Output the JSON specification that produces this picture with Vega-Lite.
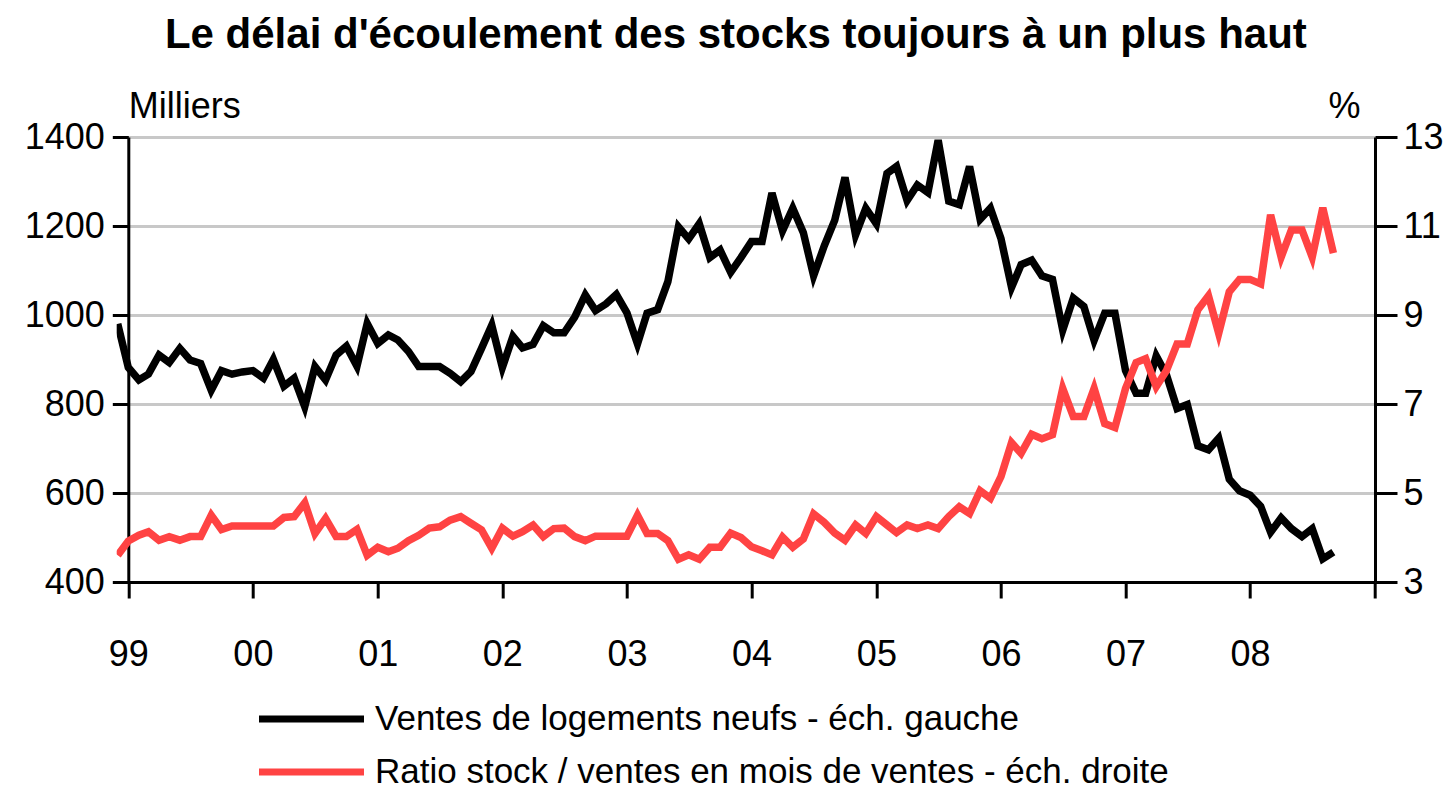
{
  "$schema": "https://vega.github.io/schema/vega-lite/v6.json",
  "autosize": {"type": "none"},
  "width": 1258.3,
  "height": 445,
  "padding": {"left": 116.7, "top": 137, "right": 80, "bottom": 207},
  "background": "white",
  "title": {
    "text": "Le délai d'écoulement des stocks toujours à un plus haut",
    "font": "Liberation Sans",
    "fontSize": 42,
    "fontWeight": "bold",
    "color": "black",
    "anchor": "middle",
    "dx": -10,
    "offset": 31
  },
  "config": {
    "view": {"stroke": null},
    "font": "Liberation Sans"
  },
  "data": {
    "values": [
      {"date": "1998-12-01", "ventes": 980, "ratio": 3.6},
      {"date": "1999-01-01", "ventes": 882, "ratio": 3.92},
      {"date": "1999-02-01", "ventes": 854, "ratio": 4.05},
      {"date": "1999-03-01", "ventes": 867, "ratio": 4.13},
      {"date": "1999-04-01", "ventes": 910, "ratio": 3.94},
      {"date": "1999-05-01", "ventes": 893, "ratio": 4.02},
      {"date": "1999-06-01", "ventes": 925, "ratio": 3.94},
      {"date": "1999-07-01", "ventes": 899, "ratio": 4.02},
      {"date": "1999-08-01", "ventes": 891, "ratio": 4.02},
      {"date": "1999-09-01", "ventes": 831, "ratio": 4.5},
      {"date": "1999-10-01", "ventes": 875, "ratio": 4.18},
      {"date": "1999-11-01", "ventes": 867, "ratio": 4.26},
      {"date": "1999-12-01", "ventes": 872, "ratio": 4.26},
      {"date": "2000-01-01", "ventes": 875, "ratio": 4.26},
      {"date": "2000-02-01", "ventes": 858, "ratio": 4.26},
      {"date": "2000-03-01", "ventes": 900, "ratio": 4.26},
      {"date": "2000-04-01", "ventes": 840, "ratio": 4.45},
      {"date": "2000-05-01", "ventes": 858, "ratio": 4.47},
      {"date": "2000-06-01", "ventes": 794, "ratio": 4.78},
      {"date": "2000-07-01", "ventes": 884, "ratio": 4.09},
      {"date": "2000-08-01", "ventes": 854, "ratio": 4.43},
      {"date": "2000-09-01", "ventes": 910, "ratio": 4.02},
      {"date": "2000-10-01", "ventes": 930, "ratio": 4.02},
      {"date": "2000-11-01", "ventes": 885, "ratio": 4.18},
      {"date": "2000-12-01", "ventes": 981, "ratio": 3.6},
      {"date": "2001-01-01", "ventes": 936, "ratio": 3.78},
      {"date": "2001-02-01", "ventes": 955, "ratio": 3.68},
      {"date": "2001-03-01", "ventes": 944, "ratio": 3.76},
      {"date": "2001-04-01", "ventes": 918, "ratio": 3.93},
      {"date": "2001-05-01", "ventes": 884, "ratio": 4.05},
      {"date": "2001-06-01", "ventes": 884, "ratio": 4.21},
      {"date": "2001-07-01", "ventes": 884, "ratio": 4.24},
      {"date": "2001-08-01", "ventes": 869, "ratio": 4.39},
      {"date": "2001-09-01", "ventes": 850, "ratio": 4.47},
      {"date": "2001-10-01", "ventes": 873, "ratio": 4.32},
      {"date": "2001-11-01", "ventes": 925, "ratio": 4.17},
      {"date": "2001-12-01", "ventes": 977, "ratio": 3.76},
      {"date": "2002-01-01", "ventes": 882, "ratio": 4.21},
      {"date": "2002-02-01", "ventes": 952, "ratio": 4.03},
      {"date": "2002-03-01", "ventes": 926, "ratio": 4.13},
      {"date": "2002-04-01", "ventes": 934, "ratio": 4.28},
      {"date": "2002-05-01", "ventes": 976, "ratio": 4.02},
      {"date": "2002-06-01", "ventes": 960, "ratio": 4.2},
      {"date": "2002-07-01", "ventes": 960, "ratio": 4.21},
      {"date": "2002-08-01", "ventes": 995, "ratio": 4.02},
      {"date": "2002-09-01", "ventes": 1045, "ratio": 3.93},
      {"date": "2002-10-01", "ventes": 1010, "ratio": 4.03},
      {"date": "2002-11-01", "ventes": 1025, "ratio": 4.03},
      {"date": "2002-12-01", "ventes": 1046, "ratio": 4.03},
      {"date": "2003-01-01", "ventes": 1005, "ratio": 4.03},
      {"date": "2003-02-01", "ventes": 935, "ratio": 4.5},
      {"date": "2003-03-01", "ventes": 1004, "ratio": 4.09},
      {"date": "2003-04-01", "ventes": 1012, "ratio": 4.09},
      {"date": "2003-05-01", "ventes": 1075, "ratio": 3.93},
      {"date": "2003-06-01", "ventes": 1198, "ratio": 3.51},
      {"date": "2003-07-01", "ventes": 1171, "ratio": 3.61},
      {"date": "2003-08-01", "ventes": 1205, "ratio": 3.51},
      {"date": "2003-09-01", "ventes": 1129, "ratio": 3.78},
      {"date": "2003-10-01", "ventes": 1146, "ratio": 3.78},
      {"date": "2003-11-01", "ventes": 1096, "ratio": 4.1},
      {"date": "2003-12-01", "ventes": 1129, "ratio": 4.0},
      {"date": "2004-01-01", "ventes": 1165, "ratio": 3.79},
      {"date": "2004-02-01", "ventes": 1165, "ratio": 3.7},
      {"date": "2004-03-01", "ventes": 1274, "ratio": 3.61},
      {"date": "2004-04-01", "ventes": 1189, "ratio": 4.01},
      {"date": "2004-05-01", "ventes": 1240, "ratio": 3.78},
      {"date": "2004-06-01", "ventes": 1185, "ratio": 3.97},
      {"date": "2004-07-01", "ventes": 1088, "ratio": 4.53},
      {"date": "2004-08-01", "ventes": 1155, "ratio": 4.34},
      {"date": "2004-09-01", "ventes": 1213, "ratio": 4.1},
      {"date": "2004-10-01", "ventes": 1309, "ratio": 3.94},
      {"date": "2004-11-01", "ventes": 1180, "ratio": 4.28},
      {"date": "2004-12-01", "ventes": 1240, "ratio": 4.09},
      {"date": "2005-01-01", "ventes": 1205, "ratio": 4.47},
      {"date": "2005-02-01", "ventes": 1318, "ratio": 4.28},
      {"date": "2005-03-01", "ventes": 1334, "ratio": 4.11},
      {"date": "2005-04-01", "ventes": 1257, "ratio": 4.28},
      {"date": "2005-05-01", "ventes": 1292, "ratio": 4.2},
      {"date": "2005-06-01", "ventes": 1275, "ratio": 4.28},
      {"date": "2005-07-01", "ventes": 1393, "ratio": 4.2},
      {"date": "2005-08-01", "ventes": 1256, "ratio": 4.47},
      {"date": "2005-09-01", "ventes": 1248, "ratio": 4.69},
      {"date": "2005-10-01", "ventes": 1334, "ratio": 4.54},
      {"date": "2005-11-01", "ventes": 1215, "ratio": 5.05},
      {"date": "2005-12-01", "ventes": 1240, "ratio": 4.88},
      {"date": "2006-01-01", "ventes": 1172, "ratio": 5.37},
      {"date": "2006-02-01", "ventes": 1062, "ratio": 6.13},
      {"date": "2006-03-01", "ventes": 1113, "ratio": 5.89},
      {"date": "2006-04-01", "ventes": 1123, "ratio": 6.32},
      {"date": "2006-05-01", "ventes": 1088, "ratio": 6.22},
      {"date": "2006-06-01", "ventes": 1080, "ratio": 6.31},
      {"date": "2006-07-01", "ventes": 966, "ratio": 7.35},
      {"date": "2006-08-01", "ventes": 1038, "ratio": 6.72},
      {"date": "2006-09-01", "ventes": 1019, "ratio": 6.72},
      {"date": "2006-10-01", "ventes": 943, "ratio": 7.35},
      {"date": "2006-11-01", "ventes": 1004, "ratio": 6.56},
      {"date": "2006-12-01", "ventes": 1004, "ratio": 6.47},
      {"date": "2007-01-01", "ventes": 875, "ratio": 7.35},
      {"date": "2007-02-01", "ventes": 824, "ratio": 7.93},
      {"date": "2007-03-01", "ventes": 824, "ratio": 8.02},
      {"date": "2007-04-01", "ventes": 908, "ratio": 7.39},
      {"date": "2007-05-01", "ventes": 865, "ratio": 7.75},
      {"date": "2007-06-01", "ventes": 790, "ratio": 8.35},
      {"date": "2007-07-01", "ventes": 799, "ratio": 8.35},
      {"date": "2007-08-01", "ventes": 706, "ratio": 9.12},
      {"date": "2007-09-01", "ventes": 697, "ratio": 9.43},
      {"date": "2007-10-01", "ventes": 723, "ratio": 8.59},
      {"date": "2007-11-01", "ventes": 631, "ratio": 9.52},
      {"date": "2007-12-01", "ventes": 605, "ratio": 9.8},
      {"date": "2008-01-01", "ventes": 595, "ratio": 9.8},
      {"date": "2008-02-01", "ventes": 570, "ratio": 9.7},
      {"date": "2008-03-01", "ventes": 512, "ratio": 11.25},
      {"date": "2008-04-01", "ventes": 544, "ratio": 10.3},
      {"date": "2008-05-01", "ventes": 520, "ratio": 10.91},
      {"date": "2008-06-01", "ventes": 502, "ratio": 10.91},
      {"date": "2008-07-01", "ventes": 520, "ratio": 10.3},
      {"date": "2008-08-01", "ventes": 452, "ratio": 11.41},
      {"date": "2008-09-01", "ventes": 467, "ratio": 10.39}
    ]
  },
  "encoding": {
    "x": {
      "field": "date",
      "type": "temporal",
      "scale": {
        "type": "utc",
        "domain": [
          {"year": 1998, "month": 11, "date": 28, "utc": true},
          {"year": 2009, "month": 1, "date": 1, "utc": true}
        ]
      },
      "axis": {
        "title": null,
        "grid": false,
        "values": [
          {"year": 1999, "month": 1, "date": 1, "utc": true},
          {"year": 2000, "month": 1, "date": 1, "utc": true},
          {"year": 2001, "month": 1, "date": 1, "utc": true},
          {"year": 2002, "month": 1, "date": 1, "utc": true},
          {"year": 2003, "month": 1, "date": 1, "utc": true},
          {"year": 2004, "month": 1, "date": 1, "utc": true},
          {"year": 2005, "month": 1, "date": 1, "utc": true},
          {"year": 2006, "month": 1, "date": 1, "utc": true},
          {"year": 2007, "month": 1, "date": 1, "utc": true},
          {"year": 2008, "month": 1, "date": 1, "utc": true},
          {"year": 2009, "month": 1, "date": 1, "utc": true}
        ],
        "format": "%y",
        "labelExpr": "utcyear(datum.value) > 2008 ? '' : datum.label",
        "labelFlush": false,
        "labelOverlap": false,
        "labelFontSize": 36,
        "labelColor": "black",
        "labelPadding": 39,
        "tickSize": 16,
        "tickWidth": 3,
        "tickColor": "black",
        "domainColor": "black",
        "domainWidth": 3
      }
    }
  },
  "layer": [
    {
      "mark": {"type": "line", "strokeWidth": 7.5, "clip": true},
      "encoding": {
        "y": {
          "field": "ventes",
          "type": "quantitative",
          "scale": {"domain": [400, 1400], "nice": false, "zero": false},
          "axis": {
            "orient": "left",
            "offset": -11.6,
            "values": [400, 600, 800, 1000, 1200, 1400],
            "format": "d",
            "grid": false,
            "title": "Milliers",
            "titleAngle": 0,
            "titleAlign": "left",
            "titleBaseline": "alphabetic",
            "titleX": 0,
            "titleY": -20,
            "titleFontSize": 36,
            "titleFontWeight": "normal",
            "titleColor": "black",
            "labelFontSize": 36,
            "labelColor": "black",
            "labelPadding": 8,
            "labelFlush": false,
            "tickSize": 16,
            "tickWidth": 3,
            "tickColor": "black",
            "domainColor": "black",
            "domainWidth": 3
          }
        },
        "color": {
          "datum": "Ventes de logements neufs - éch. gauche",
          "scale": {
            "domain": ["Ventes de logements neufs - éch. gauche", "Ratio stock / ventes en mois de ventes - éch. droite"],
            "range": ["#000000", "#ff4343"]
          },
          "legend": {
            "orient": "none",
            "legendX": 177.3,
            "legendY": 564.5,
            "title": null,
            "direction": "vertical",
            "symbolType": "M-4.2,0H4.2",
            "symbolSize": 625,
            "symbolStrokeWidth": 7,
            "labelFontSize": 35,
            "labelColor": "black",
            "labelLimit": 1200,
            "labelOffset": 46,
            "rowPadding": 17,
            "padding": 0
          }
        }
      }
    },
    {
      "mark": {"type": "line", "strokeWidth": 7.5, "clip": true},
      "encoding": {
        "y": {
          "field": "ratio",
          "type": "quantitative",
          "scale": {"domain": [3, 13], "nice": false, "zero": false},
          "axis": {
            "orient": "right",
            "values": [3, 5, 7, 9, 11, 13],
            "grid": true,
            "gridColor": "#c8c8c8",
            "gridWidth": 3,
            "title": "%",
            "titleAngle": 0,
            "titleAlign": "right",
            "titleBaseline": "alphabetic",
            "titleX": -15,
            "titleY": -20,
            "titleFontSize": 36,
            "titleFontWeight": "normal",
            "titleColor": "black",
            "labelFontSize": 36,
            "labelColor": "black",
            "labelPadding": 6,
            "labelFlush": false,
            "tickSize": 22,
            "tickWidth": 3,
            "tickColor": "black",
            "domainColor": "black",
            "domainWidth": 3
          }
        },
        "color": {
          "datum": "Ratio stock / ventes en mois de ventes - éch. droite"
        }
      }
    }
  ],
  "resolve": {"scale": {"y": "independent"}}
}
